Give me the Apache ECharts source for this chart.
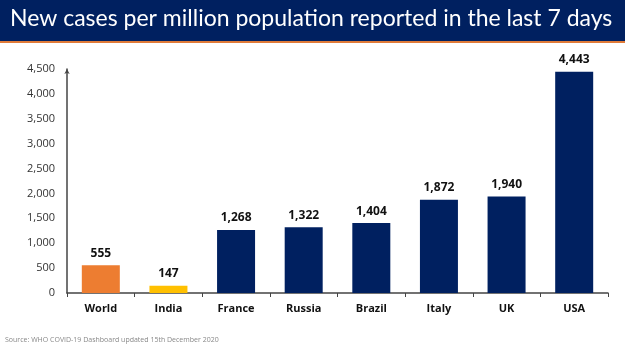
<!DOCTYPE html>
<html>
	<head>
		<meta charset="utf-8" />
		<title>New cases per million</title>
		<script src="https://cdn.jsdelivr.net/npm/echarts@6/dist/echarts.min.js"></script>
		<style>
			body { margin: 0; background: #fff; }
			#main { width: 625px; height: 351px; }
		</style>
	</head>
	<body>
		<div id="main"></div>
	<script>
	// data
	var countries = ["World", "India", "France", "Russia", "Brazil", "Italy", "UK", "USA"];
	var casesPerMillion = [555, 147, 1268, 1322, 1404, 1872, 1940, 4443];
	var barColors = ["#ED7D31", "#FFC000", "#002060", "#002060", "#002060", "#002060", "#002060", "#002060"];

	var chart = echarts.init(document.getElementById("main"));

	var option = {
		backgroundColor: "#fff",
		animation: false,
		graphic: [
			{ type: "rect", left: 0, top: 0, shape: { width: 625, height: 41 }, style: { fill: "#002060" } },
			{ type: "rect", left: 0, top: 41, shape: { width: 625, height: 2 }, style: { fill: "#E07B39" } },
			{ type: "text", left: 10, top: 7, style: { text: "New cases per million population reported in the last 7 days", fill: "#fff", font: "23px Lato" } },
			{ type: "text", left: 5, top: 336, style: { text: "Source: WHO COVID-19 Dashboard updated 15th December 2020", fill: "#888", font: "7px 'Open Sans'" } }
		],
		grid: { left: 67, right: 17, top: 69, bottom: 58 },
		xAxis: {
			type: "category",
			data: countries,
			axisLine: { lineStyle: { color: "#444", width: 1.5 } },
			axisTick: { show: true, length: 4, lineStyle: { color: "#444" } },
			axisLabel: { color: "#111", fontWeight: "bold", fontSize: 11, fontFamily: "Open Sans", margin: 10 }
		},
		yAxis: {
			type: "value",
			min: 0,
			max: 4500,
			interval: 500,
			axisLine: { show: true, symbol: ["none", "arrow"], symbolSize: [4, 5], lineStyle: { color: "#444", width: 1.5 } },
			axisTick: { show: false },
			splitLine: { show: false },
			axisLabel: {
				color: "#333", fontSize: 11, fontFamily: "Open Sans", margin: 12,
				formatter: function (v) { return v.toLocaleString("en-US"); }
			}
		},
		series: [{
			type: "bar",
			data: casesPerMillion.map(function (v, i) { return { value: v, itemStyle: { color: barColors[i] } }; }),
			barWidth: 38,
			label: {
				show: true, position: "top", distance: 6,
				color: "#111", fontWeight: "bold", fontSize: 12, fontFamily: "Open Sans",
				formatter: function (p) { return p.value.toLocaleString("en-US"); }
			}
		}]
	};

	chart.setOption(option);
	</script>
	</body>
</html>
